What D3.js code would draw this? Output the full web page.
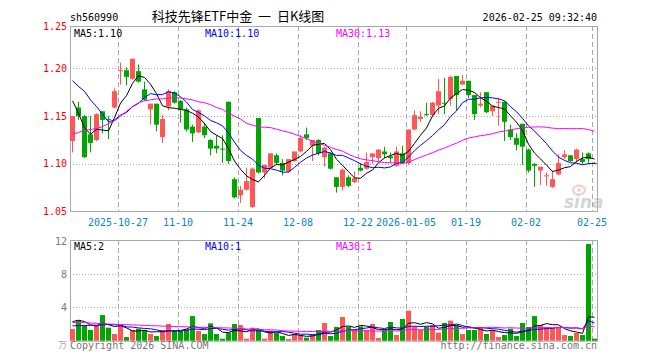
<!DOCTYPE html>
<html>
<head>
<meta charset="utf-8">
<script src="https://cdn.jsdelivr.net/npm/d3@7"></script>
<style>
  body { margin: 0; background: #fff; }
  text { font-family: "DejaVu Sans Mono", monospace; font-size: 10px; }
</style>
</head>
<body>
<div class="content"></div>
<script>
const SVGWIDTH = 660;
const SVGHEIGHT = 360;
const LEFT = 70, RIGHT = 597;
const MAIN_TOP = 26, MAIN_BOT = 211;
const VOL_TOP = 240, VOL_BOT = 340.7;
const UP = "#ff5656", DOWN = "#00a600";

// daily candles (oldest first)
const openP = [1.124,1.159,1.150,1.131,1.125,1.155,1.147,1.159,1.197,1.198,1.189,1.197,1.178,1.157,1.163,1.128,1.160,1.175,1.166,1.157,1.139,1.133,
  1.139,1.125,1.119,1.116,1.165,1.084,1.067,1.073,1.055,1.148,1.091,1.096,1.109,1.101,1.092,1.103,1.113,1.131,1.119,1.125,1.107,1.111,
  1.086,1.076,1.086,1.081,1.096,1.095,1.107,1.106,1.113,1.108,1.098,1.111,1.101,1.136,1.147,1.152,1.151,1.161,1.164,1.168,1.192,1.183,
  1.187,1.172,1.161,1.175,1.155,1.164,1.165,1.136,1.127,1.142,1.115,1.100,1.093,1.087,1.076,1.089,1.107,1.109,1.105,1.105,1.111,1.101];
const highP = [1.150,1.165,1.151,1.150,1.153,1.155,1.150,1.179,1.206,1.201,1.210,1.204,1.186,1.163,1.163,1.151,1.178,1.176,1.167,1.159,1.141,1.157,
  1.143,1.126,1.130,1.130,1.165,1.086,1.077,1.096,1.096,1.148,1.099,1.111,1.111,1.105,1.105,1.113,1.130,1.138,1.125,1.126,1.118,1.112,
  1.086,1.095,1.088,1.092,1.101,1.112,1.111,1.115,1.118,1.112,1.118,1.119,1.136,1.156,1.155,1.164,1.165,1.189,1.190,1.192,1.192,1.193,
  1.187,1.172,1.175,1.175,1.161,1.169,1.166,1.141,1.132,1.142,1.116,1.101,1.097,1.091,1.093,1.110,1.114,1.109,1.116,1.112,1.112,1.102];
const lowP = [1.112,1.146,1.106,1.112,1.124,1.132,1.126,1.158,1.183,1.182,1.188,1.185,1.166,1.141,1.134,1.122,1.156,1.163,1.143,1.134,1.123,1.132,
  1.127,1.109,1.111,1.101,1.100,1.064,1.059,1.072,1.054,1.090,1.085,1.095,1.099,1.088,1.091,1.102,1.112,1.125,1.103,1.109,1.097,1.094,
  1.070,1.072,1.076,1.080,1.092,1.094,1.100,1.102,1.106,1.101,1.097,1.100,1.099,1.135,1.144,1.150,1.150,1.152,1.152,1.161,1.156,1.183,
  1.169,1.146,1.159,1.153,1.150,1.140,1.124,1.125,1.114,1.099,1.091,1.076,1.078,1.077,1.075,1.088,1.105,1.102,1.101,1.100,1.100,1.100];
const closeP = [1.150,1.150,1.107,1.122,1.152,1.146,1.146,1.176,1.198,1.191,1.210,1.186,1.167,1.163,1.141,1.147,1.176,1.164,1.157,1.136,1.132,1.156,
  1.130,1.116,1.116,1.115,1.103,1.065,1.073,1.082,1.095,1.091,1.099,1.111,1.101,1.093,1.105,1.113,1.127,1.127,1.125,1.111,1.117,1.095,
  1.076,1.094,1.077,1.085,1.093,1.102,1.111,1.115,1.110,1.106,1.113,1.101,1.136,1.151,1.149,1.151,1.164,1.176,1.163,1.191,1.172,1.187,
  1.172,1.152,1.163,1.154,1.161,1.165,1.144,1.128,1.120,1.118,1.093,1.098,1.097,1.088,1.084,1.101,1.110,1.103,1.115,1.102,1.105,1.100];
// volume (in the panel's own units)
const volume = [1.4,2.48,1.88,1.28,1.76,3.07,1.56,0.8,1.8,0.44,1.28,1.44,1.28,0.8,0.56,1.28,2.0,1.16,1.16,1.36,2.95,1.16,
  0.8,2.08,0.8,0.24,0.96,2.0,1.88,0.24,1.56,1.36,0.24,1.2,0.96,0.56,0.2,0.8,0.68,0.36,0.8,1.28,2.12,0.56,
  1.64,2.84,1.68,1.28,1.72,1.28,2.0,0.32,1.28,2.24,0.68,2.6,3.6,1.68,1.28,1.68,1.88,0.96,2.12,2.4,1.8,0.8,
  1.28,1.28,1.64,0.8,1.28,0.44,0.68,1.44,0.56,2.12,1.64,2.95,1.88,1.64,1.52,1.52,0.68,0.56,0.92,0.68,11.58,0.24];

// moving average values at the left edge (their earlier days are not on the chart)
const ma5Head = [1.166,1.153,1.138,1.131];
const ma10Head = [1.187,1.181,1.176,1.167,1.160,1.152,1.144,1.146,1.151];
const ma30Head = [1.131,1.133,1.135,1.136,1.137,1.139,1.142,1.145,1.150,1.155,1.160,1.164,1.166,1.167,1.168,1.168,1.169,1.169,1.169,1.168,
  1.167,1.165,1.164,1.162,1.159,1.157,1.153,1.150,1.147];
const volMa5Head = [2.28,2.45,2.3,1.9];
const volMa10Head = [1.78,1.8,1.82,1.84,1.86,1.9,1.94,1.92,1.88];
const volMa30Head = [2.2,2.18,2.16,2.12,2.08,2.04,2.0,1.97,1.94,1.92,1.9,1.87,1.84,1.8,1.78,1.75,1.72,1.7,1.68,1.66,
  1.64,1.62,1.6,1.58,1.56,1.54,1.52,1.5,1.48];

const dateLabels = ["2025-10-27","11-10","11-24","12-08","12-22","2026-01-05","01-19","02-02","02-25"];
const dateIndex = [8,18,28,38,48,56,66,76,87];
const priceTicks = [1.05,1.10,1.15,1.20,1.25];
const volTicks = [4,8,12];
const priceLegend = ["MA5:1.10","MA10:1.10","MA30:1.13"];
const volLegend = ["MA5:2","MA10:1","MA30:1"];
const maColors = ["#000000","#0000ff","#ff00ff"];

function movingAvg(vals, n, head){
    return vals.map((v,i)=>{
        if(i < n-1) return head[i];
        return d3.mean(vals.slice(i-n+1,i+1));
    });
}

const svg = d3.select(".content").append("svg").attr("width",SVGWIDTH).attr("height",SVGHEIGHT);

let xscale = d3.scaleLinear().domain([0,88]).range([LEFT, LEFT+6*88]);
let yscale = d3.scaleLinear().domain([1.05,1.20]).range([211.7,68.3]);
let vscale = d3.scaleLinear().domain([0,12]).range([VOL_BOT,240.5]);
const grey = "#a8a8a8";

// header
svg.append("text").attr("x",LEFT).attr("y",21).text("sh560990");
svg.append("text").attr("x",238).attr("y",21).attr("text-anchor","middle")
    .style("font-family","'Noto Sans CJK SC', sans-serif").style("font-size","13px")
    .attr("xml:space","preserve")
    .text("科技先锋ETF中金  一  日K线图");
svg.append("text").attr("x",RIGHT).attr("y",21).attr("text-anchor","end").text("2026-02-25 09:32:40");

// grid
let grid = svg.append("g");
grid.selectAll(".vline").data(dateIndex).join("line")
    .attr("x1",d=>Math.round(xscale(d))+0.5).attr("x2",d=>Math.round(xscale(d))+0.5)
    .attr("y1",MAIN_TOP).attr("y2",MAIN_BOT)
    .attr("stroke",grey).attr("stroke-dasharray","5,3");
grid.selectAll(".vline2").data(dateIndex).join("line")
    .attr("x1",d=>Math.round(xscale(d))+0.5).attr("x2",d=>Math.round(xscale(d))+0.5)
    .attr("y1",VOL_TOP).attr("y2",VOL_BOT)
    .attr("stroke",grey).attr("stroke-dasharray","5,3");
grid.selectAll(".hline").data(priceTicks.filter(d=>d>1.05 && d<1.25)).join("line")
    .attr("x1",LEFT).attr("x2",RIGHT)
    .attr("y1",d=>Math.round(yscale(d))+0.5).attr("y2",d=>Math.round(yscale(d))+0.5)
    .attr("stroke",grey).attr("stroke-dasharray","1,2");
grid.selectAll(".hline2").data(volTicks.filter(d=>d<12)).join("line")
    .attr("x1",LEFT).attr("x2",RIGHT)
    .attr("y1",d=>Math.round(vscale(d))+0.5).attr("y2",d=>Math.round(vscale(d))+0.5)
    .attr("stroke",grey).attr("stroke-dasharray","1,2");

// sina watermark
let logo = svg.append("g").attr("opacity",0.35);
logo.append("ellipse").attr("cx",579).attr("cy",190).attr("rx",6).attr("ry",4.5)
    .attr("fill","none").attr("stroke","#e66").attr("stroke-width",2);
logo.append("circle").attr("cx",579).attr("cy",190).attr("r",1.8).attr("fill","#e66");
logo.append("text").attr("x",564).attr("y",208)
    .style("font-family","'DejaVu Sans', sans-serif").style("font-size","17px")
    .style("font-style","italic").style("font-weight","bold")
    .attr("fill","#888").text("sina");

// frames
let frame = svg.append("g").attr("fill","none").attr("stroke",grey);
frame.append("rect").attr("x",LEFT+0.5).attr("y",MAIN_TOP+0.5).attr("width",RIGHT-LEFT).attr("height",MAIN_BOT-MAIN_TOP);
frame.append("rect").attr("x",LEFT+0.5).attr("y",VOL_TOP+0.5).attr("width",RIGHT-LEFT).attr("height",VOL_BOT-VOL_TOP);

// candles
let idx = d3.range(closeP.length);
let isUp = i => closeP[i] >= openP[i];
let candles = svg.append("g").selectAll("g").data(idx).join("g");
candles.append("line")
    .attr("x1",i=>xscale(i)+2.5).attr("x2",i=>xscale(i)+2.5)
    .attr("y1",i=>yscale(highP[i])).attr("y2",i=>yscale(lowP[i]))
    .attr("stroke",i=>isUp(i)?UP:DOWN);
candles.append("rect")
    .attr("x",i=>xscale(i)).attr("width",5)
    .attr("y",i=>yscale(Math.max(openP[i],closeP[i])))
    .attr("height",i=>Math.max(1,Math.abs(yscale(openP[i])-yscale(closeP[i]))))
    .attr("fill",i=>isUp(i)?UP:DOWN);

// volume bars
svg.append("g").selectAll("rect").data(idx).join("rect")
    .attr("x",i=>xscale(i)).attr("width",5)
    .attr("y",i=>vscale(volume[i])).attr("height",i=>vscale(0)-vscale(volume[i]))
    .attr("fill",i=>isUp(i)?UP:DOWN);

// moving average lines
let priceMa = [movingAvg(closeP,5,ma5Head),movingAvg(closeP,10,ma10Head),movingAvg(closeP,30,ma30Head)];
let volMa = [movingAvg(volume,5,volMa5Head),movingAvg(volume,10,volMa10Head),movingAvg(volume,30,volMa30Head)];
let pline = d3.line().x((d,i)=>xscale(i)+2.5).y(d=>yscale(d));
let vline = d3.line().x((d,i)=>xscale(i)+2.5).y(d=>vscale(d));
svg.append("g").selectAll("path").data(priceMa).join("path")
    .attr("d",d=>pline(d)).attr("fill","none").attr("stroke",(d,i)=>maColors[i]).attr("stroke-width",1);
svg.append("g").selectAll("path").data(volMa).join("path")
    .attr("d",d=>vline(d)).attr("fill","none").attr("stroke",(d,i)=>maColors[i]).attr("stroke-width",1);

// legends
let legendX = [74,205,336];
svg.append("g").selectAll("text").data(priceLegend).join("text")
    .attr("x",(d,i)=>legendX[i]).attr("y",37).attr("fill",(d,i)=>maColors[i]).text(d=>d);
svg.append("g").selectAll("text").data(volLegend).join("text")
    .attr("x",(d,i)=>legendX[i]).attr("y",250).attr("fill",(d,i)=>maColors[i]).text(d=>d);

// y labels
let topPrice = yscale.invert(MAIN_TOP);
svg.append("g").selectAll("text").data(priceTicks).join("text")
    .attr("x",67).attr("text-anchor","end")
    .attr("y",d=>yscale(Math.min(d,topPrice))+3.5)
    .attr("fill","#f00").text(d=>d.toFixed(2));
svg.append("g").selectAll("text").data(volTicks).join("text")
    .attr("x",67).attr("text-anchor","end")
    .attr("y",d=>vscale(d)+4)
    .attr("fill","#777").text(d=>d);
svg.append("text").attr("x",67).attr("y",348).attr("text-anchor","end")
    .attr("fill","#aaa").style("font-size","9px")
    .style("font-family","'Noto Sans CJK SC', sans-serif").text("万");

// x labels
svg.append("g").selectAll("text").data(dateIndex).join("text")
    .attr("x",d=>xscale(d)).attr("y",225.5).attr("text-anchor","middle")
    .attr("fill","#0a84c8").text((d,i)=>dateLabels[i]);

// footer
svg.append("text").attr("x",LEFT).attr("y",349).attr("fill","#777").text("Copyright 2026 SINA.COM");
svg.append("text").attr("x",RIGHT).attr("y",349).attr("text-anchor","end").attr("fill","#777").text("http://finance.sina.com.cn");
</script>
</body>
</html>
